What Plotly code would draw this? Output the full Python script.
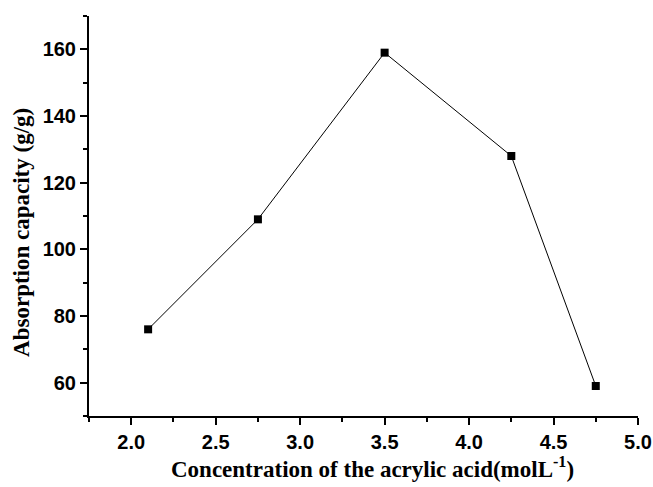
import plotly.graph_objects as go

concentration = [2.10, 2.75, 3.50, 4.25, 4.75]
absorption = [76, 109, 159, 128, 59]

x_tick_vals = [2.0, 2.5, 3.0, 3.5, 4.0, 4.5, 5.0]
x_tick_text = ["2.0", "2.5", "3.0", "3.5", "4.0", "4.5", "5.0"]
y_tick_vals = [60, 80, 100, 120, 140, 160]
y_tick_text = ["60", "80", "100", "120", "140", "160"]

x_title = "Concentration of the acrylic acid(molL<sup>-1</sup>)"
y_title = "Absorption capacity (g/g)"

fig = go.Figure()
fig.add_trace(go.Scatter(
    x=concentration, y=absorption, mode="lines+markers",
    line=dict(color="black", width=1),
    marker=dict(symbol="square", size=8, color="black"),
    showlegend=False,
))

axis_common = dict(
    showgrid=False, zeroline=False, showline=True, linecolor="black", linewidth=2,
    ticks="outside", ticklen=7, tickwidth=2, tickcolor="black",
    tickfont=dict(family="Liberation Sans", size=20, color="black"),
    mirror=False, automargin=False,
)

fig.update_layout(
    width=653, height=487,
    margin=dict(l=89, r=15, t=16, b=71),
    plot_bgcolor="white", paper_bgcolor="white",
    xaxis=dict(
        range=[1.75, 5.0],
        tickvals=x_tick_vals, ticktext=["<b>%s</b>" % t for t in x_tick_text],
        minor=dict(dtick=0.25, tick0=2.0, ticks="outside", ticklen=4, tickwidth=2, tickcolor="black"),
        **axis_common,
    ),
    yaxis=dict(
        range=[50, 170],
        tickvals=y_tick_vals, ticktext=["<b>%s</b>" % t for t in y_tick_text],
        minor=dict(dtick=10, tick0=0, ticks="outside", ticklen=4, tickwidth=2, tickcolor="black"),
        **axis_common,
    ),
    annotations=[
        dict(text="<b>%s</b>" % x_title, xref="paper", yref="paper",
             x=0.5155, y=-0.128, xanchor="center", yanchor="middle", showarrow=False,
             font=dict(family="Liberation Serif", size=23, color="black")),
        dict(text="<b>%s</b>" % y_title, xref="paper", yref="paper",
             x=-0.124, y=0.46, xanchor="center", yanchor="middle", showarrow=False,
             textangle=-90,
             font=dict(family="Liberation Serif", size=23, color="black")),
    ],
)

fig.write_html("out.html")
